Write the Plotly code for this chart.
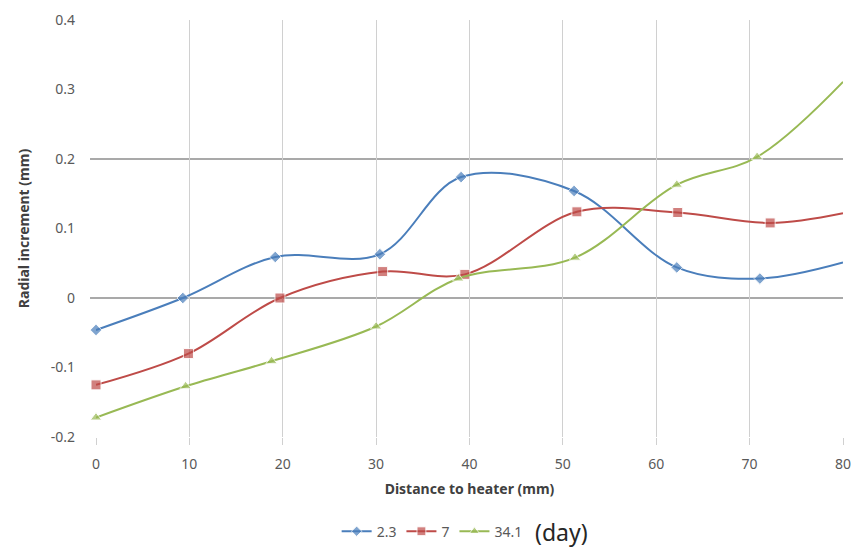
import plotly.graph_objects as go

# Data
x_23 = [0, 9.3, 19.2, 30.4, 39.1, 51.2, 62.2, 71.1, 80]
y_23 = [-0.046, 0.0, 0.059, 0.063, 0.174, 0.154, 0.044, 0.028, 0.051]

x_7 = [0, 9.9, 19.7, 30.7, 39.5, 51.5, 62.3, 72.2, 80]
y_7 = [-0.125, -0.080, 0.0, 0.038, 0.034, 0.124, 0.123, 0.108, 0.122]

x_341 = [0, 9.6, 18.8, 30.0, 38.8, 51.3, 62.2, 70.8, 80]
y_341 = [-0.172, -0.127, -0.091, -0.041, 0.028, 0.058, 0.163, 0.203, 0.311]

series_names = ["2.3", "7", "34.1"]
x_ticks = [0, 10, 20, 30, 40, 50, 60, 70, 80]
y_ticks = [-0.2, -0.1, 0, 0.1, 0.2, 0.3, 0.4]
y_tick_text = ["-0.2", "-0.1", "0", "0.1", "0.2", "0.3", "0.4"]
h_lines = [0, 0.2]

colors = ["#4A7EBB", "#BE4B48", "#98B954"]
symbols = ["diamond", "square", "triangle-up"]
sizes = [9, 10, 10]

fig = go.Figure()
for xs, ys, name, c, s, sz in zip([x_23, x_7, x_341], [y_23, y_7, y_341],
                                  series_names, colors, symbols, sizes):
    msz = [sz] * (len(xs) - 1) + [0]
    fig.add_trace(go.Scatter(
        x=xs, y=ys, name=name, mode="lines+markers",
        line=dict(color=c, width=2, shape="spline", smoothing=1.0),
        marker=dict(symbol=s, size=msz, color=c),
        cliponaxis=False,
    ))

for hy in h_lines:
    fig.add_shape(type="line", xref="paper", yref="y", x0=-0.008, x1=1, y0=hy, y1=hy,
                  line=dict(color="#8C8C8C", width=1.3), layer="below")

fig.add_annotation(text="(day)", xref="paper", yref="paper", x=0.585, y=-0.227,
                   xanchor="left", yanchor="middle", showarrow=False,
                   font=dict(size=23, color="#262626", family="Noto Sans"))

fig.update_layout(
    width=857, height=560,
    margin=dict(l=96, r=14, t=20, b=108),
    paper_bgcolor="white", plot_bgcolor="white",
    font=dict(family="Noto Sans", size=14, color="#595959"),
    showlegend=True,
    legend=dict(orientation="h", x=0.45, y=-0.227, xanchor="center", yanchor="middle",
                font=dict(size=14, color="#595959"), itemwidth=30,
                tracegroupgap=0, bgcolor="rgba(0,0,0,0)"),
    xaxis=dict(range=[0, 80], tickvals=x_ticks, showgrid=True, gridcolor="#D0D0D0", gridwidth=1.3,
               zeroline=False, showline=False, ticks="outside", ticklen=7, tickcolor="#D0D0D0",
               tickwidth=1.3, ticklabelstandoff=7, automargin=False,
               title=dict(text="<b>Distance to heater (mm)</b>", font=dict(size=14, color="#404040"),
                          standoff=12)),
    yaxis=dict(range=[-0.2, 0.4], tickvals=y_ticks, ticktext=y_tick_text, showgrid=False,
               zeroline=False, showline=False, ticks="", ticklabelstandoff=20, automargin=False,
               title=dict(text="<b>Radial increment (mm)</b>", font=dict(size=14, color="#404040"),
                          standoff=17)),
)

fig.write_html("out.html", config={"displayModeBar": False},
               post_script="document.body.style.margin='0';document.body.style.overflow='hidden';")
